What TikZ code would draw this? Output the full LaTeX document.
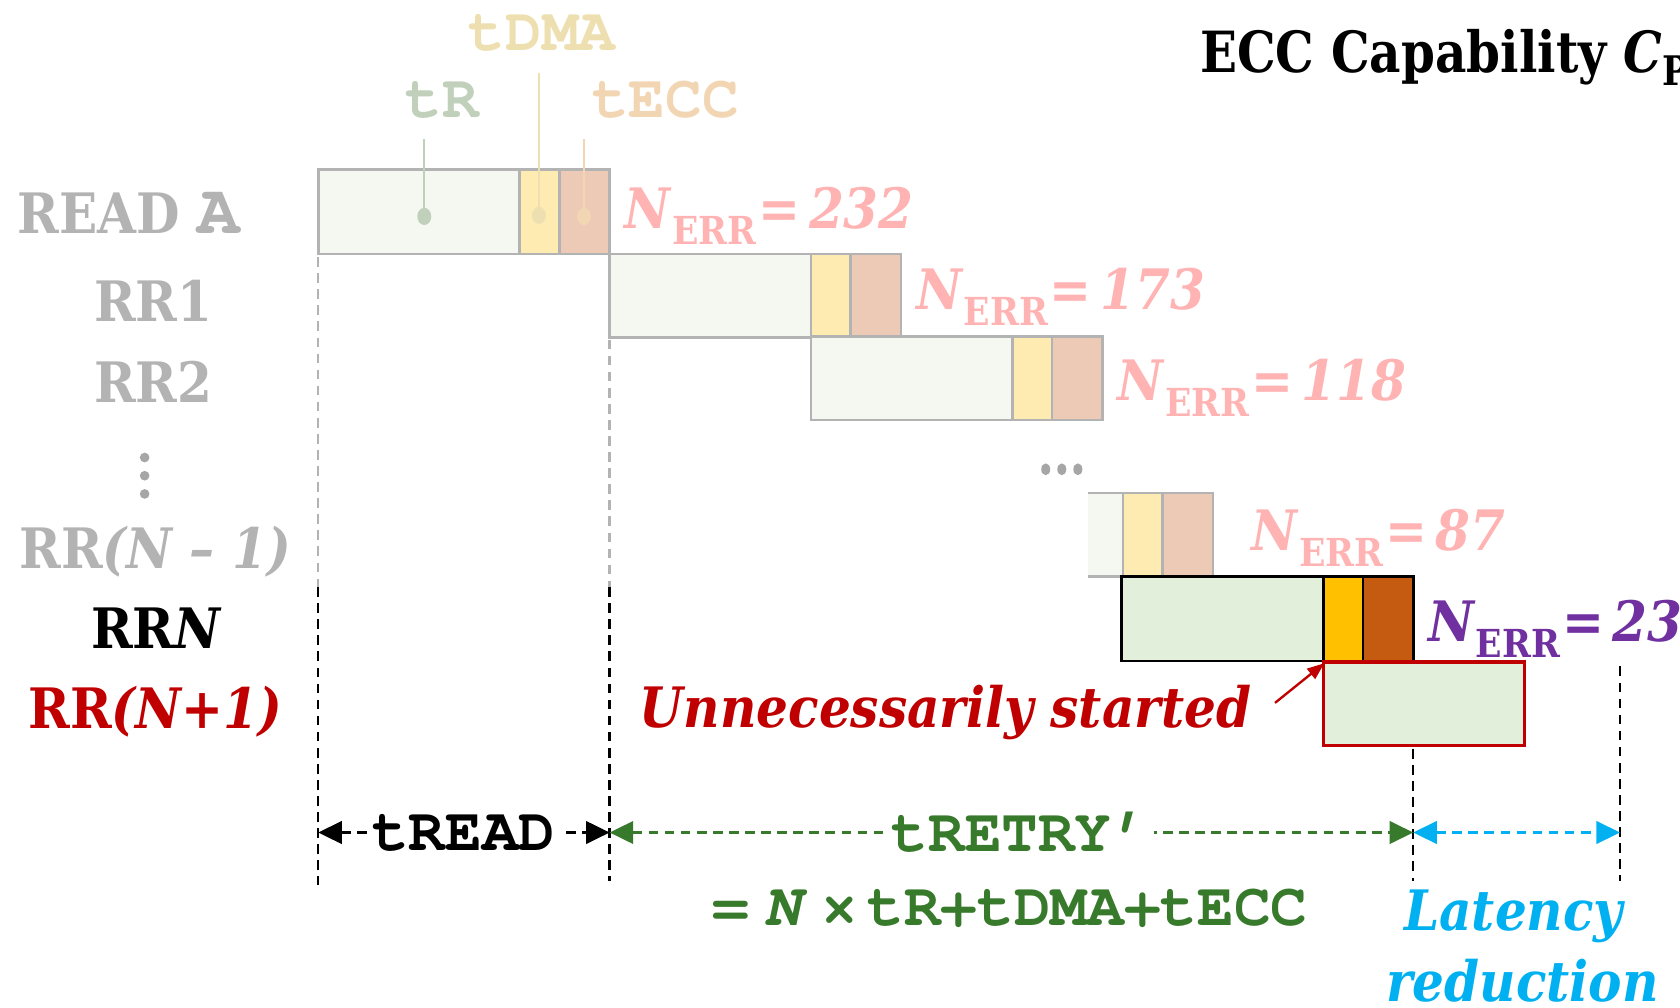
\documentclass[tikz,border=0pt]{standalone}
\usepackage{fontspec}
\setmainfont{DejaVu Serif Condensed}
\setmonofont{TeX Gyre Cursor}
\usetikzlibrary{arrows.meta}

\definecolor{fadeG}{HTML}{F5F8F1}
\definecolor{fadeY}{HTML}{FEEBB2}
\definecolor{fadeO}{HTML}{ECCAB6}
\definecolor{fadeline}{HTML}{B3B3B3}
\definecolor{liveG}{HTML}{E2EFDA}
\definecolor{liveY}{HTML}{FFC000}
\definecolor{liveO}{HTML}{C55A11}
\definecolor{alertred}{HTML}{C00000}
\definecolor{errpink}{HTML}{FFB3B3}
\definecolor{errpurple}{HTML}{7030A0}
\definecolor{retrygreen}{HTML}{387A2B}
\definecolor{gaincyan}{HTML}{00B0F0}
\definecolor{labelgray}{HTML}{B3B3B3}
\definecolor{dotgray}{HTML}{A6A6A6}
\definecolor{trcol}{HTML}{C0D0BA}
\definecolor{dmacol}{HTML}{EDDFAF}
\definecolor{ecccol}{HTML}{F2D6B4}

% error-count label: N_ERR= value
\newcommand\errcount[1]{\textit{N}\raisebox{-15pt}{\fontsize{36}{36}\selectfont ERR}\kern2pt=\kern8pt\textit{#1}}

% one faded read: tR | tDMA | tECC
\newcommand\fadedread[3]{%
  \filldraw[seg,fill=fadeG] (#1,#2) rectangle (#1+188,#3);
  \filldraw[seg,fill=fadeY] (#1+188,#2) rectangle (#1+225,#3);
  \filldraw[seg,fill=fadeO] (#1+225,#2) rectangle (#1+272,#3);}

\begin{document}
\begin{tikzpicture}[x=1pt,y=-1pt,
  seg/.style={draw=fadeline,line width=2.5pt},
  serif/.style={inner sep=0pt,font=\bfseries\fontsize{52}{52}\selectfont},
  mono/.style={inner sep=0pt,font=\ttfamily\bfseries\fontsize{57}{57}\selectfont},
  guide/.style={line width=2.2pt,dash pattern=on 9pt off 6pt},
  span/.style={line width=2.2pt,dash pattern=on 9pt off 6pt,
    {Triangle[length=22pt,width=21pt]}-{Triangle[length=22pt,width=21pt]}},
  pin/.style={line width=2pt}]

\useasboundingbox (0,0) rectangle (1568,940);
\clip (0,0) rectangle (1568,940);

% ---- row labels ----
\node[serif,text=labelgray,anchor=base] (lblA) at (120,218) {READ {\ttfamily\fontsize{66}{66}\selectfont A}};
\node[serif,text=labelgray,anchor=base] (lbl1) at (143,300) {RR1};
\node[serif,text=labelgray,anchor=base] (lbl2) at (143,376) {RR2};
\fill[dotgray] (135,427) circle (4.5) (135,444) circle (4.5) (135,461) circle (4.5);
\node[serif,text=labelgray,anchor=base] (lblNm) at (145,531) {RR\textit{(N – 1)}};
\node[serif,text=black,anchor=base] (lblN) at (146,605) {RR\textit{N}};
\node[serif,text=alertred,anchor=base] (lblNp) at (145,680) {RR\textit{(N+1)}};

% ---- title ----
\node[serif,font=\bfseries\fontsize{53}{53}\selectfont,anchor=base west] (title) at (1120,68)
  {\scalebox{0.95}[1]{ECC Capability \textit{C}\raisebox{-12pt}{\fontsize{38}{38}\selectfont P}}};

% ---- faded reads ----
\fadedread{297}{158}{237}
\fadedread{569}{237}{315}
\fadedread{757}{314}{392}

% partially shown read RR(N-1)
\fill[fadeG] (1015,460) rectangle (1048,538);
\fill[fadeY] (1048,460) rectangle (1085,538);
\fill[fadeO] (1085,460) rectangle (1132,538);
\draw[seg] (1015,460) -- (1132,460) -- (1132,538) -- (1015,538);
\draw[seg] (1048,460) -- (1048,538) (1085,460) -- (1085,538);

% ellipsis between reads
\fill[dotgray] (976,438) ellipse (4.2 and 5.5) (991,438) ellipse (4.2 and 5.5) (1006,438) ellipse (4.2 and 5.5);

% ---- final read RRN ----
\filldraw[draw=black,line width=2.5pt,fill=liveG] (1047,538) rectangle (1235,617);
\filldraw[draw=black,line width=2.5pt,fill=liveY] (1235,538) rectangle (1272,617);
\filldraw[draw=black,line width=2.5pt,fill=liveO] (1272,538) rectangle (1319,617);

% ---- RR(N+1) ----
\filldraw[draw=alertred,line width=3.2pt,fill=liveG] (1235,618) rectangle (1423,696);
\coordinate (nextcorner) at (1236,619);

% ---- phase pins ----
\node[mono,text=trcol,anchor=base] (ptR) at (413,110) {tR};
\node[mono,text=dmacol,anchor=base] (pDMA) at (506,47) {tDMA};
\node[mono,text=ecccol,anchor=base] (pECC) at (621,110) {tECC};
\coordinate (dotR) at (396,202);
\coordinate (dotD) at (503,201);
\coordinate (dotE) at (545,202);
\draw[pin,trcol] (396,130) -- (dotR);
\draw[pin,dmacol] (503,68) -- (dotD);
\draw[pin,ecccol] (545,130) -- (dotE);
\fill[trcol] (dotR) ellipse (6.5 and 8);
\fill[dmacol] (dotD) ellipse (6.5 and 8);
\fill[ecccol] (dotE) ellipse (6.5 and 8);

% ---- error counts ----
\node[serif,text=errpink,anchor=base west] (e1) at (583,213) {\errcount{232}};
\node[serif,text=errpink,anchor=base west] (e2) at (855,289) {\errcount{173}};
\node[serif,text=errpink,anchor=base west] (e3) at (1043,374) {\errcount{118}};
\node[serif,text=errpink,anchor=base west] (e4) at (1168,514) {\errcount{87}};
\node[serif,text=errpurple,anchor=base west] (e5) at (1333,599) {\errcount{23}};

% ---- unnecessary start ----
\node[serif,text=alertred,anchor=base east] (unn) at (1168,679) {\textit{Unnecessarily started}};
\coordinate (unnarrow) at (1190,656);
\draw[alertred,line width=2.2pt,-{Triangle[length=16pt,width=12pt]}] (unnarrow) -- (nextcorner);

% ---- time guides ----
\coordinate (g1a) at (297,240);
\coordinate (g1b) at (297,548);
\coordinate (g1c) at (297,826);
\coordinate (g2a) at (569,317);
\coordinate (g2b) at (569,548);
\coordinate (g2c) at (569,822);
\coordinate (g3a) at (1319,699);
\coordinate (g3c) at (1319,822);
\coordinate (g4a) at (1512,622);
\coordinate (g4c) at (1512,822);
\draw[guide,fadeline] (g1a) -- (g1b);
\draw[guide,black] (g1b) -- (g1c);
\draw[guide,fadeline] (g2a) -- (g2b);
\draw[guide,black] (g2b) -- (g2c);
\draw[guide,black] (g3a) -- (g3c);
\draw[guide,black] (g4a) -- (g4c);

% ---- spans ----
\coordinate (s1) at (297,777);
\coordinate (s2) at (569,777);
\coordinate (s3) at (1319,777);
\coordinate (s4) at (1512,777);
\draw[span,black] (s1) -- (s2);
\draw[span,retrygreen] (s2) -- (s3);
\draw[span,gaincyan] (s3) -- (s4);
\node[mono,text=black,fill=white,inner xsep=5pt,inner ysep=2pt] (tread) at (433,777) {tREAD};
\node[mono,text=retrygreen,fill=white,inner xsep=5pt,inner ysep=2pt] (tretry) at (952,777) {tRETRY’};
\node[mono,text=retrygreen,anchor=base west] (formula) at (665,864)
  {=\hspace{14pt}\textit{N}\hspace{10pt}\textit{×}\hspace{12pt}tR+tDMA+tECC};

% ---- latency reduction ----
\node[serif,text=gaincyan,anchor=base] (lat1) at (1414,868) {\textit{Latency}};
\node[serif,text=gaincyan,anchor=base] (lat2) at (1421,935) {\textit{reduction}};
\end{tikzpicture}
\end{document}
